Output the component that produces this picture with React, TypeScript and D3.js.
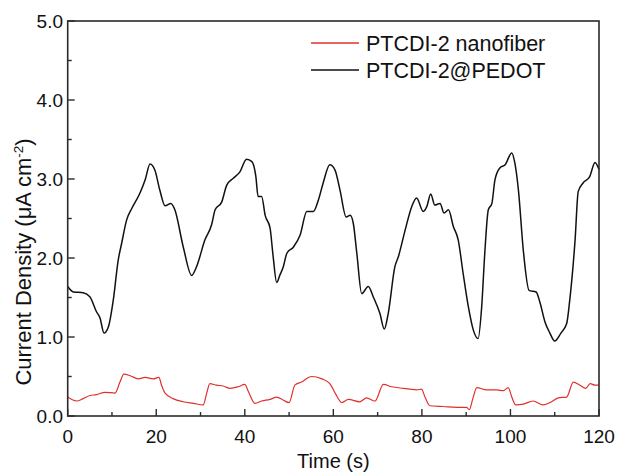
import React from "react";
import * as d3 from "d3";

const pedotT = [0, 1.3, 3.5, 5.0, 6.5, 7.3, 8.2, 9.2, 10.3, 11.4, 12.2, 13.3, 14.5, 16.3, 17.5, 18.6, 19.7, 20.8, 22.0, 23.3, 24.2, 26.1, 28.0, 29.1, 31.0, 32.5, 33.3, 34.8, 35.9, 37.4, 38.9, 40.4, 41.6, 42.5, 43.0, 43.8, 44.6, 45.7, 46.4, 47.2, 47.9, 48.7, 49.5, 51.0, 52.5, 54.0, 55.5, 56.6, 57.7, 59.2, 60.4, 61.5, 62.9, 63.8, 64.5, 65.3, 66.4, 67.9, 69.0, 70.5, 71.5, 72.4, 73.9, 74.7, 76.2, 77.7, 78.8, 80.3, 81.1, 82.0, 82.9, 84.1, 85.0, 86.0, 87.1, 88.2, 89.3, 90.5, 91.6, 92.7, 93.5, 94.2, 95.0, 95.8, 96.5, 97.6, 98.8, 100.3, 101.0, 101.8, 102.9, 104.2, 105.8, 106.7, 107.8, 108.9, 110.0, 111.4, 112.7, 113.4, 114.6, 115.3, 116.4, 117.9, 119.1, 120];
const pedotV = [1.64, 1.57, 1.56, 1.51, 1.32, 1.24, 1.05, 1.13, 1.47, 1.97, 2.19, 2.48, 2.63, 2.82, 2.99, 3.19, 3.11, 2.86, 2.66, 2.69, 2.61, 2.14, 1.78, 1.89, 2.23, 2.42, 2.61, 2.71, 2.92, 3.01, 3.09, 3.25, 3.22, 3.03, 2.78, 2.78, 2.54, 2.38, 2.02, 1.69, 1.78, 1.89, 2.06, 2.14, 2.29, 2.59, 2.59, 2.73, 2.95, 3.18, 3.11, 2.86, 2.52, 2.54, 2.44, 2.06, 1.55, 1.64, 1.51, 1.30, 1.10, 1.30, 1.89, 2.02, 2.35, 2.65, 2.76, 2.59, 2.65, 2.81, 2.67, 2.69, 2.57, 2.61, 2.40, 2.23, 1.81, 1.38, 1.09, 0.98, 1.38, 2.06, 2.61, 2.69, 2.99, 3.14, 3.18, 3.33, 3.20, 2.86, 2.10, 1.59, 1.57, 1.43, 1.19, 1.05, 0.95, 1.05, 1.17, 1.47, 2.23, 2.84, 2.95, 3.03, 3.21, 3.12];

const fiberT = [0, 2.0, 3.5, 5.0, 6.5, 8.4, 10.7, 11.8, 12.7, 14.1, 15.9, 17.5, 19.3, 20.6, 21.2, 22.0, 23.8, 26.1, 28.4, 30.6, 31.4, 32.1, 33.6, 35.1, 36.7, 38.5, 40.0, 40.8, 42.3, 43.8, 45.7, 47.2, 48.7, 50.0, 51.3, 52.8, 55.1, 57.4, 59.2, 60.6, 61.9, 63.4, 66.0, 67.5, 69.4, 71.3, 73.2, 75.8, 77.3, 78.8, 79.9, 80.7, 81.8, 84.8, 87.9, 90.1, 90.7, 91.5, 92.4, 94.6, 96.9, 98.4, 99.5, 100.3, 101.2, 102.9, 105.1, 107.4, 109.3, 110.8, 112.7, 114.2, 115.7, 117.0, 118.0, 119.1, 120];
const fiberV = [0.24, 0.19, 0.22, 0.26, 0.27, 0.30, 0.29, 0.43, 0.53, 0.51, 0.47, 0.49, 0.47, 0.49, 0.39, 0.29, 0.22, 0.18, 0.16, 0.14, 0.29, 0.41, 0.39, 0.38, 0.35, 0.37, 0.40, 0.31, 0.16, 0.19, 0.21, 0.24, 0.20, 0.17, 0.39, 0.43, 0.50, 0.47, 0.41, 0.27, 0.17, 0.21, 0.18, 0.23, 0.19, 0.40, 0.37, 0.35, 0.34, 0.33, 0.34, 0.24, 0.13, 0.12, 0.11, 0.11, 0.08, 0.22, 0.36, 0.33, 0.33, 0.32, 0.36, 0.24, 0.14, 0.15, 0.19, 0.14, 0.18, 0.23, 0.24, 0.43, 0.39, 0.35, 0.41, 0.39, 0.39];

const xMajor = [0, 20, 40, 60, 80, 100, 120];
const xMinor = [10, 30, 50, 70, 90, 110];
const yMajor = [0, 1, 2, 3, 4, 5];
const yMinor = [0.5, 1.5, 2.5, 3.5, 4.5];

const legendNames = ["PTCDI-2 nanofiber", "PTCDI-2@PEDOT"];
const colors = ["#e0302e", "#111111"];

const FONT = "'Liberation Sans', Arial, Helvetica, sans-serif";

export default function App() {
  const W = 622, H = 475;
  const L = 67.7, R = 599, T = 21, B = 416;
  const x = d3.scaleLinear().domain([0, 120]).range([L, R]);
  const y = d3.scaleLinear().domain([0, 5]).range([B, T]);
  const line = d3.line<[number, number]>().x(d => x(d[0])).y(d => y(d[1])).curve(d3.curveMonotoneX);
  const pedot = pedotT.map((t, i) => [t, pedotV[i]] as [number, number]);
  const fiber = fiberT.map((t, i) => [t, fiberV[i]] as [number, number]);
  const axisColor = "#2a2a2a";
  return (
    <svg width={W} height={H} style={{ position: "absolute", left: 0, top: 0, background: "#fff" }} fontFamily={FONT}>
      <rect x={0} y={0} width={W} height={H} fill="#fff" />
      <path d={line(fiber) || ""} fill="none" stroke={colors[0]} strokeWidth={1.2} />
      <path d={line(pedot) || ""} fill="none" stroke={colors[1]} strokeWidth={1.5} />
      <rect x={L} y={T} width={R - L} height={B - T} fill="none" stroke={axisColor} strokeWidth={1.6} />
      {xMajor.map(v => (
        <g key={"xM" + v}>
          <line x1={x(v)} x2={x(v)} y1={B} y2={B - 7} stroke={axisColor} strokeWidth={1.4} />
          <text x={x(v)} y={443} textAnchor="middle" fontSize={19} fill="#111">{v}</text>
        </g>
      ))}
      {xMinor.map(v => (
        <line key={"xm" + v} x1={x(v)} x2={x(v)} y1={B} y2={B - 4} stroke={axisColor} strokeWidth={1.4} />
      ))}
      {yMajor.map(v => (
        <g key={"yM" + v}>
          <line x1={L} x2={L + 7} y1={y(v)} y2={y(v)} stroke={axisColor} strokeWidth={1.4} />
          <text x={63} y={y(v) + 6.8} textAnchor="end" fontSize={19} fill="#111">{v.toFixed(1)}</text>
        </g>
      ))}
      {yMinor.map(v => (
        <line key={"ym" + v} x1={L} x2={L + 4} y1={y(v)} y2={y(v)} stroke={axisColor} strokeWidth={1.4} />
      ))}
      <text x={(L + R) / 2} y={468} textAnchor="middle" fontSize={20} fill="#111">Time (s)</text>
      <text transform={`translate(31,262) rotate(-90)`} textAnchor="middle" fontSize={22} fill="#111">
        Current Density (μA cm<tspan dy={-8} fontSize={13.5}>-2</tspan><tspan dy={8}>)</tspan>
      </text>
      {legendNames.map((n, i) => (
        <g key={n}>
          <line x1={311} x2={359} y1={43 + i * 27} y2={43 + i * 27} stroke={colors[i]} strokeWidth={1.3} />
          <text x={366} y={50.8 + i * 27} fontSize={21.5} fill="#111">{n}</text>
        </g>
      ))}
    </svg>
  );
}
